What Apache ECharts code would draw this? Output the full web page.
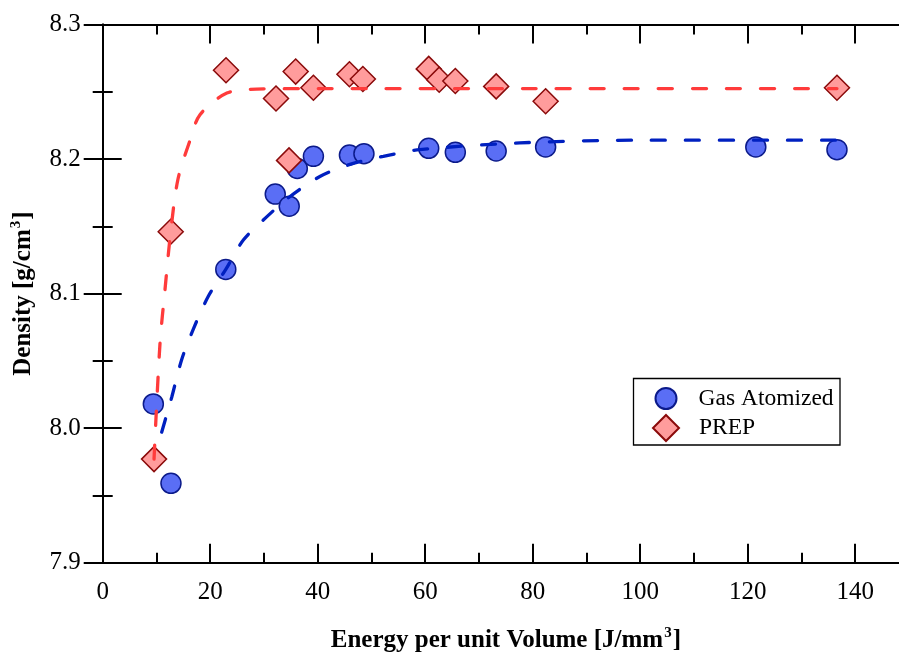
<!DOCTYPE html>
<html>
<head>
<meta charset="utf-8">
<script src="https://cdn.jsdelivr.net/npm/echarts@6/dist/echarts.min.js"></script>
<style>
html,body{margin:0;padding:0;background:#fff;overflow:hidden;}
#chart{width:899px;height:653px;}
</style>
</head>
<body>
<div id="chart"></div>
<script>
// ---- data ----
var gasX = [9.42, 12.7, 22.9, 32.1, 34.7, 36.2, 39.2, 45.9, 48.6, 60.65, 65.6, 73.2, 82.4, 121.5, 136.6];
var gasY = [8.018, 7.959, 8.118, 8.174, 8.165, 8.193, 8.202, 8.203, 8.204, 8.208, 8.205, 8.206, 8.209, 8.209, 8.207];

var prepX = [9.55, 12.65, 22.94, 32.24, 34.66, 35.9, 39.2, 45.9, 48.4, 60.65, 62.6, 65.6, 73.2, 82.4, 136.6];
var prepY = [7.977, 8.146, 8.266, 8.245, 8.199, 8.265, 8.253, 8.263, 8.2595, 8.267, 8.259, 8.258, 8.254, 8.243, 8.253];

var gasFitX = [10.97, 12.84, 14.7, 16.9, 19.65, 22.9, 26.2, 30.5, 34.8, 40.4, 46.0, 52.2, 59.0, 77.6, 98.7, 136.6];
var gasFitY = [7.997, 8.023, 8.051, 8.074, 8.098, 8.118, 8.140, 8.157, 8.172, 8.187, 8.196, 8.202, 8.207, 8.212, 8.214, 8.214];

var prepFitX = [9.55, 10.66, 11.59, 12.65, 14.0, 16.25, 18.1, 23.1, 28.6, 40.0, 80.0, 136.6];
var prepFitY = [7.977, 8.063, 8.103, 8.146, 8.185, 8.214, 8.233, 8.249, 8.252, 8.2524, 8.2524, 8.2524];

var xTickLabels = ['0', '20', '40', '60', '80', '100', '120', '140'];
var yTickLabels = ['7.9', '8.0', '8.1', '8.2', '8.3'];

function pairs(xs, ys) { return xs.map(function (x, i) { return [x, ys[i]]; }); }

var FONT = 'Liberation Serif';
var GRID = { left: 102.7, right: -10, top: 24.5, bottom: 90.3, containLabel: false, outerBoundsMode: 'none' };

var chart = echarts.init(document.getElementById('chart'), null, { renderer: 'canvas', width: 899, height: 653 });

var axisLine = { show: true, lineStyle: { color: '#000', width: 2 } };
var majorTick = { show: true, inside: true, length: 19, lineStyle: { color: '#000', width: 2 } };
var minorTickX = { show: true, inside: true, length: 10, lineStyle: { color: '#000', width: 2 } };

var nameRich = {
  b: { fontFamily: FONT, fontWeight: 'bold', fontSize: 25, color: '#000', lineHeight: 30 },
  s: { fontFamily: FONT, fontWeight: 'bold', fontSize: 15, color: '#000', verticalAlign: 'top', lineHeight: 30, padding: [0, 1, 14, 1] }
};

var option = {
  animation: false,
  backgroundColor: '#fff',
  grid: [
    Object.assign({}, GRID),
    Object.assign({}, GRID)
  ],
  xAxis: [
    {
      gridIndex: 0, type: 'value', position: 'bottom', min: 0, max: 150, interval: 20,
      axisLine: axisLine, axisTick: majorTick, splitLine: { show: false },
      axisLabel: {
        fontFamily: FONT, fontSize: 25, color: '#000', margin: 17,
        formatter: function (v) { var i = xTickLabels.indexOf(String(v)); return i >= 0 ? xTickLabels[i] : ''; }
      },
      name: '{b|Energy per unit Volume [J/mm}{s|3}{b|]}',
      nameLocation: 'middle', nameGap: 63,
      nameTextStyle: { rich: nameRich }
    },
    {
      gridIndex: 0, type: 'value', position: 'top', min: 0, max: 150, interval: 20,
      axisLine: axisLine, axisTick: majorTick, splitLine: { show: false }, axisLabel: { show: false }
    },
    {
      gridIndex: 1, type: 'value', position: 'bottom', min: 0, max: 150, interval: 10,
      axisLine: { show: false }, axisTick: minorTickX, splitLine: { show: false }, axisLabel: { show: false }
    },
    {
      gridIndex: 1, type: 'value', position: 'top', min: 0, max: 150, interval: 10,
      axisLine: { show: false }, axisTick: minorTickX, splitLine: { show: false }, axisLabel: { show: false }
    }
  ],
  yAxis: [
    {
      gridIndex: 0, type: 'value', position: 'left', min: 7.9, max: 8.3, interval: 0.1,
      axisLine: axisLine, axisTick: majorTick, splitLine: { show: false },
      minorTick: { show: true, splitNumber: 2, length: 10, lineStyle: { color: '#000', width: 2 } },
      minorSplitLine: { show: false },
      axisLabel: {
        fontFamily: FONT, fontSize: 25, color: '#000', margin: 22,
        formatter: function (v) { var s = v.toFixed(1); return yTickLabels.indexOf(s) >= 0 ? s : ''; }
      },
      name: '{b|Density [g/cm}{s|3}{b|]}',
      nameLocation: 'middle', nameGap: 64,
      nameTextStyle: { rich: nameRich }
    },
    {
      gridIndex: 0, type: 'value', position: 'right', min: 7.9, max: 8.3, interval: 0.1,
      axisLine: axisLine, axisTick: majorTick, splitLine: { show: false },
      minorTick: { show: true, splitNumber: 2, length: 10, lineStyle: { color: '#000', width: 2 } },
      axisLabel: { show: false }
    },
    { gridIndex: 1, type: 'value', min: 7.9, max: 8.3, show: false },
    { gridIndex: 1, type: 'value', min: 7.9, max: 8.3, show: false, position: 'right' }
  ],
  legend: [
    {
      data: ['Gas Atomized'], left: 654.5, top: 386.5, padding: 0,
      itemWidth: 21, itemHeight: 21, symbolKeepAspect: true, selectedMode: false,
      textStyle: { fontFamily: FONT, fontSize: 23.5, color: '#000', padding: [0, 0, 0, 17] }
    },
    {
      data: ['PREP'], left: 652, top: 414, padding: 0,
      itemWidth: 26, itemHeight: 26, symbolKeepAspect: true, selectedMode: false,
      textStyle: { fontFamily: FONT, fontSize: 23.5, color: '#000', padding: [0, 0, 0, 15] }
    }
  ],
  graphic: [
    {
      type: 'rect', z: 0,
      shape: { x: 633.5, y: 378.5, width: 206.5, height: 66.5 },
      style: { fill: '#fff', stroke: '#000', lineWidth: 1.3 }
    }
  ],
  series: [
    {
      name: 'Gas Atomized', type: 'scatter', xAxisIndex: 0, yAxisIndex: 0,
      data: pairs(gasX, gasY), symbol: 'circle', symbolSize: 20, symbolKeepAspect: true, z: 2,
      itemStyle: { color: '#5a6ef5', borderColor: '#0b1a8a', borderWidth: 1.5, opacity: 1 }
    },
    {
      name: 'PREP', type: 'scatter', xAxisIndex: 0, yAxisIndex: 0,
      data: pairs(prepX, prepY), symbol: 'diamond', symbolSize: 25, symbolKeepAspect: true, z: 3,
      itemStyle: { color: '#ff9c9c', borderColor: '#8a0a0a', borderWidth: 1.5, opacity: 1 }
    },
    {
      name: 'Gas fit', type: 'line', xAxisIndex: 0, yAxisIndex: 0,
      data: pairs(gasFitX, gasFitY), smooth: 0.3, showSymbol: false, symbol: 'none', z: 4,
      lineStyle: { color: '#0020c0', width: 3.3, type: [14, 20], cap: 'round' }
    },
    {
      name: 'PREP fit', type: 'line', xAxisIndex: 0, yAxisIndex: 0,
      data: pairs(prepFitX, prepFitY), smooth: 0.3, showSymbol: false, symbol: 'none', z: 5,
      lineStyle: { color: '#ff3b3b', width: 3.3, type: [14, 20], cap: 'round' }
    }
  ]
};
chart.setOption(option);
</script>
</body>
</html>
